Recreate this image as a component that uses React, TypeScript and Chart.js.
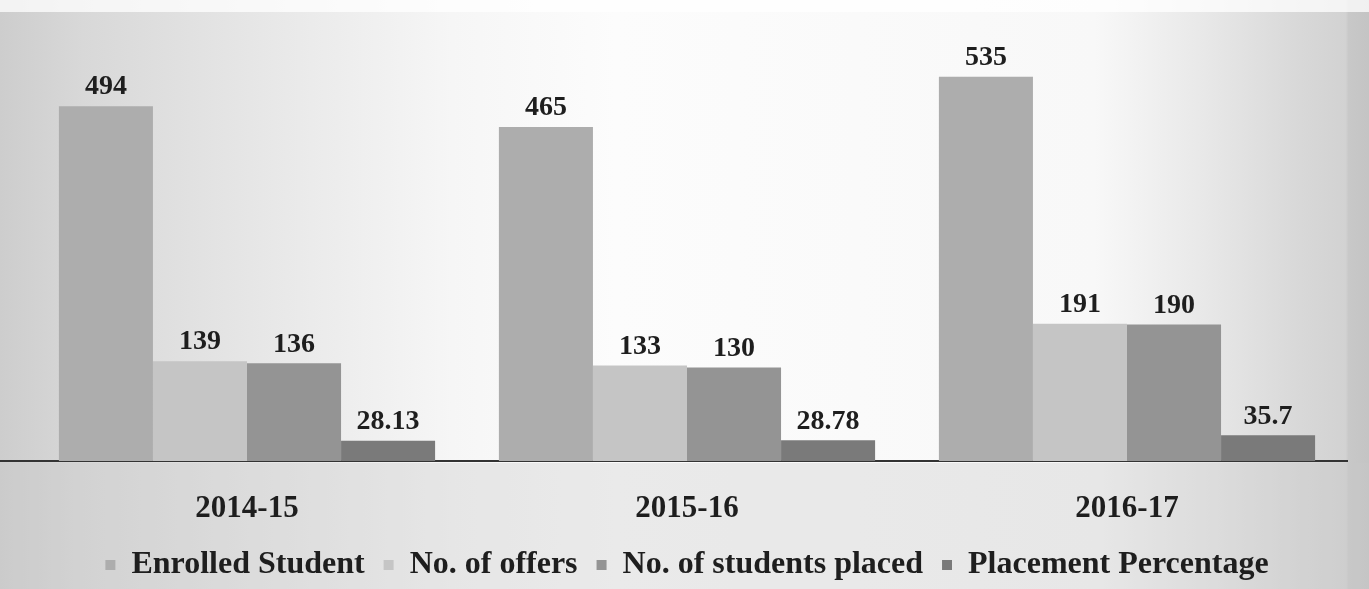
import React, { useEffect, useRef } from "react";
import { Chart, registerables } from "chart.js";

Chart.register(...registerables);

const categories = ["2014-15", "2015-16", "2016-17"];
const enrolledStudent = [494, 465, 535];
const noOfOffers = [139, 133, 191];
const studentsPlaced = [136, 130, 190];
const placementPercentage = [28.13, 28.78, 35.7];

const seriesNames = [
  "Enrolled Student",
  "No. of offers",
  "No. of students placed",
  "Placement Percentage",
];
const seriesColors = ["#adadad", "#c5c5c5", "#949494", "#7a7a7a"];

const FONT = "'Liberation Serif', 'Times New Roman', serif";

const backgroundPlugin = {
  id: "scanBackground",
  beforeDraw(chart: any) {
    const { ctx, width, height } = chart;
    ctx.save();
    const g = ctx.createLinearGradient(0, 0, width, 0);
    g.addColorStop(0, "#cdcdcd");
    g.addColorStop(0.06, "#d8d8d8");
    g.addColorStop(0.2, "#e8e8e8");
    g.addColorStop(0.33, "#f6f6f6");
    g.addColorStop(0.45, "#fcfcfc");
    g.addColorStop(0.8, "#f8f8f8");
    g.addColorStop(0.88, "#e8e8e8");
    g.addColorStop(0.95, "#d8d8d8");
    g.addColorStop(0.983, "#d2d2d2");
    g.addColorStop(0.985, "#c8c8c8");
    g.addColorStop(1, "#c4c4c4");
    ctx.fillStyle = g;
    ctx.fillRect(0, 0, width, height);
    ctx.fillStyle = "rgba(255,255,255,0.75)";
    ctx.fillRect(0, 0, width, 12);
    const area = chart.chartArea;
    ctx.fillStyle = "rgba(200,200,200,0.35)";
    ctx.fillRect(0, area.bottom + 2, width, height - area.bottom - 2);
    ctx.restore();
  },
  afterDraw(chart: any) {
    // extend the baseline to the left edge, as in the scanned original
    const { ctx } = chart;
    const area = chart.chartArea;
    ctx.save();
    ctx.strokeStyle = "#333333";
    ctx.lineWidth = 2;
    ctx.beginPath();
    ctx.moveTo(0, area.bottom);
    ctx.lineTo(area.left + 1, area.bottom);
    ctx.stroke();
    ctx.restore();
  },
};

const valueLabelPlugin = {
  id: "valueLabels",
  afterDatasetsDraw(chart: any) {
    const { ctx } = chart;
    ctx.save();
    ctx.font = `bold 28px ${FONT}`;
    ctx.fillStyle = "#1e1e1e";
    ctx.textAlign = "center";
    ctx.textBaseline = "bottom";
    chart.data.datasets.forEach((ds: any, di: number) => {
      const meta = chart.getDatasetMeta(di);
      meta.data.forEach((bar: any, i: number) => {
        ctx.fillText(String(ds.data[i]), bar.x, bar.y - 5);
      });
    });
    ctx.restore();
  },
};

export default function App() {
  const canvasRef = useRef<HTMLCanvasElement | null>(null);

  useEffect(() => {
    if (!canvasRef.current) return;
    const seriesData = [enrolledStudent, noOfOffers, studentsPlaced, placementPercentage];
    const chart = new Chart(canvasRef.current, {
      type: "bar",
      data: {
        labels: categories,
        datasets: seriesNames.map((name, i) => ({
          label: name,
          data: seriesData[i],
          backgroundColor: seriesColors[i],
          borderWidth: 0,
          categoryPercentage: 0.855,
          barPercentage: 1.0,
        })),
      },
      options: {
        animation: false,
        responsive: true,
        maintainAspectRatio: false,
        layout: { padding: { left: 27, right: 22, top: 30, bottom: -2 } },
        plugins: {
          tooltip: { enabled: false },
          legend: {
            position: "bottom",
            labels: {
              boxWidth: 10,
              boxHeight: 10,
              padding: 19,
              color: "#1e1e1e",
              font: { family: FONT, size: 32, weight: "bold" },
            },
          },
        },
        scales: {
          x: {
            grid: { display: false, drawTicks: false },
            border: { display: true, color: "#333333", width: 2 },
            ticks: {
              color: "#1e1e1e",
              padding: 29,
              font: { family: FONT, size: 31, weight: "bold" },
            },
            afterFit(scale: any) {
              scale.height = 69;
            },
          },
          y: {
            display: false,
            min: 0,
            max: 600,
          },
        },
      },
      plugins: [backgroundPlugin, valueLabelPlugin],
    });
    return () => chart.destroy();
  }, []);

  return (
    <div style={{ position: "fixed", left: 0, top: 0, width: 1369, height: 589 }}>
      <canvas ref={canvasRef} />
    </div>
  );
}
